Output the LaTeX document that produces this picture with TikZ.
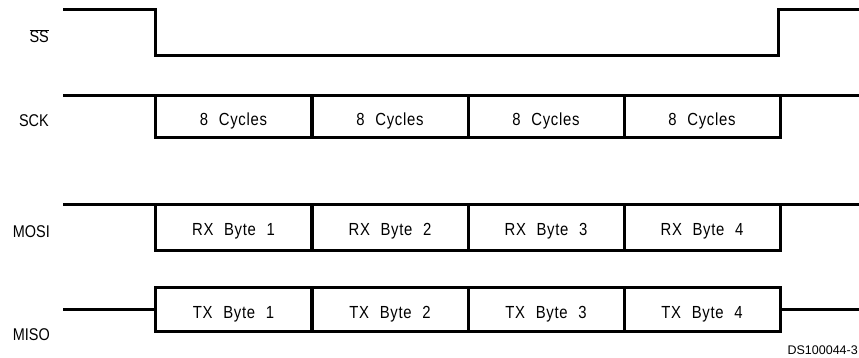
\documentclass[tikz,border=0pt]{standalone}
\usepackage{fontspec}
\setmainfont{Liberation Sans}
\newfontfamily\sigfont[FakeStretch=0.85]{Liberation Sans}
\newfontfamily\boxfont[FakeStretch=0.85,LetterSpace=4,WordSpace=2.2]{Liberation Sans}
\begin{document}
\begin{tikzpicture}[x=1pt,y=-1pt,
  wave/.style={line width=3pt,line join=miter},
  seg/.style={draw,line width=3pt,outer sep=0pt,minimum width=156pt,inner sep=0pt,anchor=center,text height=16pt,text depth=0pt,font=\boxfont\fontsize{17.5}{19}\selectfont},
  lbl/.style={anchor=east,inner sep=0pt,font=\sigfont\fontsize{17}{19}\selectfont}]
\useasboundingbox (0,0) rectangle (859,358);
% SS
\draw[wave] (63,10) -- (155,10) -- (155,56) -- (778,56) -- (778,10) -- (859,10);
\node[lbl,anchor=base east] (lss) at (49,43) {$\overline{\mbox{SS}}$};
% SCK
\node[lbl,anchor=base east] (lsck) at (49,127) {SCK};
\foreach \i/\c in {1/233.5,2/390,3/546,4/702}{
  \node[seg,minimum height=42pt,text height=18pt] (sck\i) at (\c,117) {8 Cycles};
}
\draw[wave] (63,96) -- (sck1.north west) (sck4.north east) -- (859,96);
% MOSI
\node[lbl,anchor=base east] (lmosi) at (50,237) {MOSI};
\foreach \i/\c in {1/233.5,2/390,3/546,4/702}{
  \node[seg,minimum height=45pt,text height=15pt] (mosi\i) at (\c,227.5) {RX Byte \i};
}
\draw[wave] (63,205) -- (mosi1.north west) (mosi4.north east) -- (859,205);
% MISO
\node[lbl,anchor=base east] (lmiso) at (50,340) {MISO};
\foreach \i/\c in {1/233.5,2/390,3/546,4/702}{
  \node[seg,minimum height=44pt,text height=17pt] (miso\i) at (\c,309.5) {TX Byte \i};
}
\draw[wave] (63,309.5) -- (miso1.west) (miso4.east) -- (859,309.5);
\node[anchor=base east,inner sep=0pt,font=\fontsize{12.5}{14}\selectfont] (ds) at (858,354) {DS100044-3};
\end{tikzpicture}
\end{document}
